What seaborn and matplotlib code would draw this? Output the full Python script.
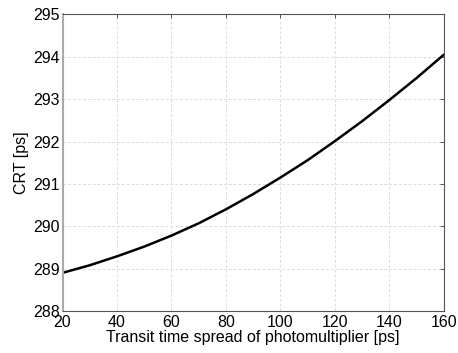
import matplotlib
matplotlib.use("Agg")
import matplotlib.pyplot as plt
import seaborn as sns
import pandas as pd

# values
tts_ps = [20, 30, 40, 50, 60, 70, 80, 90, 100, 110, 120, 130, 140, 150, 160]
crt_ps = [288.90, 289.08, 289.29, 289.52, 289.78, 290.07, 290.40, 290.76,
          291.15, 291.56, 292.01, 292.48, 292.98, 293.50, 294.05]

X_TICKS = [20, 40, 60, 80, 100, 120, 140, 160]
Y_TICKS = [288, 289, 290, 291, 292, 293, 294, 295]

sns.set_style("white")
plt.rcParams['font.family'] = ['Liberation Sans', 'DejaVu Sans']
plt.rcParams['text.color'] = 'black'
plt.rcParams['axes.labelcolor'] = 'black'
plt.rcParams['xtick.labelcolor'] = 'black'
plt.rcParams['ytick.labelcolor'] = 'black'

df = pd.DataFrame({"tts": tts_ps, "crt": crt_ps})

fig = plt.figure(figsize=(4.58, 3.53), dpi=100)
ax = fig.add_axes([0.1365, 0.119, 0.8325, 0.840])

sns.lineplot(data=df, x="tts", y="crt", ax=ax, color="black", linewidth=1.8)

ax.set_xlim(20, 160)
ax.set_ylim(288, 295)
ax.set_xticks(X_TICKS)
ax.set_yticks(Y_TICKS)
ax.grid(True, linestyle=(0, (3, 2)), color="#dcdcdc", linewidth=0.7)
ax.set_axisbelow(True)

for s in ax.spines.values():
    s.set_color("#555555")
    s.set_linewidth(0.8)
ax.spines["left"].set_color("#aaaaaa")
ax.spines["left"].set_linewidth(1.5)

ax.tick_params(direction="in", length=3, width=0.7, color="#555555",
               top=True, right=True, labelsize=11.5)
ax.tick_params(axis="x", pad=3)
ax.tick_params(axis="y", pad=2)
ax.set_xlabel("Transit time spread of photomultiplier [ps]", fontsize=11.5, labelpad=0)
ax.set_ylabel("CRT [ps]", fontsize=11.5, labelpad=3)

fig.savefig("out.png", dpi=100)
